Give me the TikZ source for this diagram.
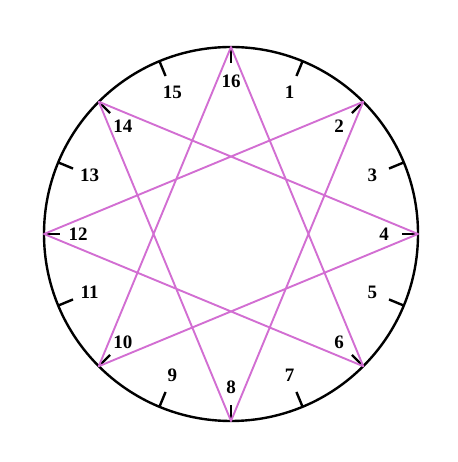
\documentclass[tikz,border=0pt]{standalone}
\usepackage{fontspec}
\setmainfont{Liberation Serif}
\usetikzlibrary{calc}
\definecolor{starpink}{RGB}{210,110,210}
\begin{document}
\begin{tikzpicture}[x=1pt,y=1pt]
        \useasboundingbox (0,0) rectangle (457,462);
        \coordinate (c) at (231,228);
        % Rim
        \draw[black, line width=2.4pt] (c) circle (187);
        % Points, ticks and numbers
        \foreach \k in {1,...,16} {
            \coordinate (p\k) at ($(c)+({90-22.5*\k}:187)$);
            \coordinate (t\k) at ($(c)+({90-22.5*\k}:171)$);
            \draw[black, line width=2.4pt] (p\k) -- (t\k);
            \node[font=\fontsize{19}{21}\selectfont\bfseries] (n\k) at ($(c)+({90-22.5*\k}:153)$) {\k};
        }
        % Star {8/3}
        \draw[starpink, line width=1.9pt, line join=round]
            (p16) -- (p6) -- (p12) -- (p2) -- (p8) -- (p14) -- (p4) -- (p10) -- cycle;
\end{tikzpicture}
\end{document}
